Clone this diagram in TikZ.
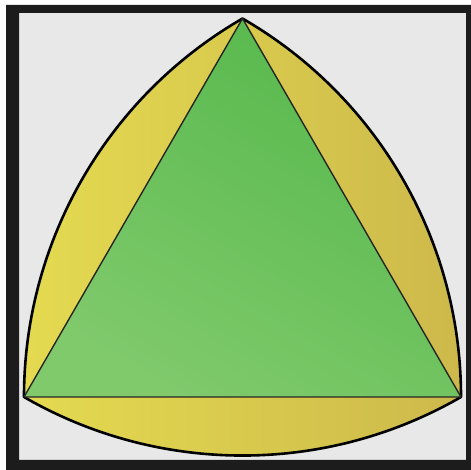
\documentclass[tikz,border=0pt]{standalone}
\usepackage{xcolor}
\usepackage{tikz}
\usetikzlibrary{calc}
\definecolor{BackGray}{RGB}{232,232,232}
\definecolor{FrameBlack}{RGB}{28,28,28}
\definecolor{LensYellow}{RGB}{228,218,80}
\definecolor{LensOlive}{RGB}{205,185,75}
\definecolor{TriGreen}{RGB}{86,184,76}
\definecolor{TriLight}{RGB}{128,202,108}
\tikzset{
  frame/.style={fill=FrameBlack, even odd rule},
  backdrop/.style={fill=BackGray},
  reuleaux/.style={draw=black, line width=2.6pt, line join=round,
    left color=LensYellow, right color=LensOlive, shading angle=90},
  tri/.style={draw=black!85, line width=1.4pt, line join=round,
    bottom color=TriLight, top color=TriGreen, shading angle=-30}
}

\begin{document}
\begin{tikzpicture}[x=1pt,y=1pt]
  \useasboundingbox (0,0) rectangle (471,470);
  % square
  \fill[backdrop] (19,10) rectangle (466,457);
  \fill[frame] (6,0) rectangle (471,465) (19,10) rectangle (466,457);
  % vertices
  \coordinate (B) at (24,73);
  \coordinate (C) at (461,73);
  \coordinate (A) at (242.5,451.5);
  % curved triangle
  \draw[reuleaux] (B) arc[start angle=240, end angle=300, radius=437]
    arc[start angle=0, end angle=60, radius=437]
    arc[start angle=120, end angle=180, radius=437] -- cycle;
  % inner triangle
  \draw[tri] (A) -- (B) -- (C) -- cycle;
\end{tikzpicture}
\end{document}
